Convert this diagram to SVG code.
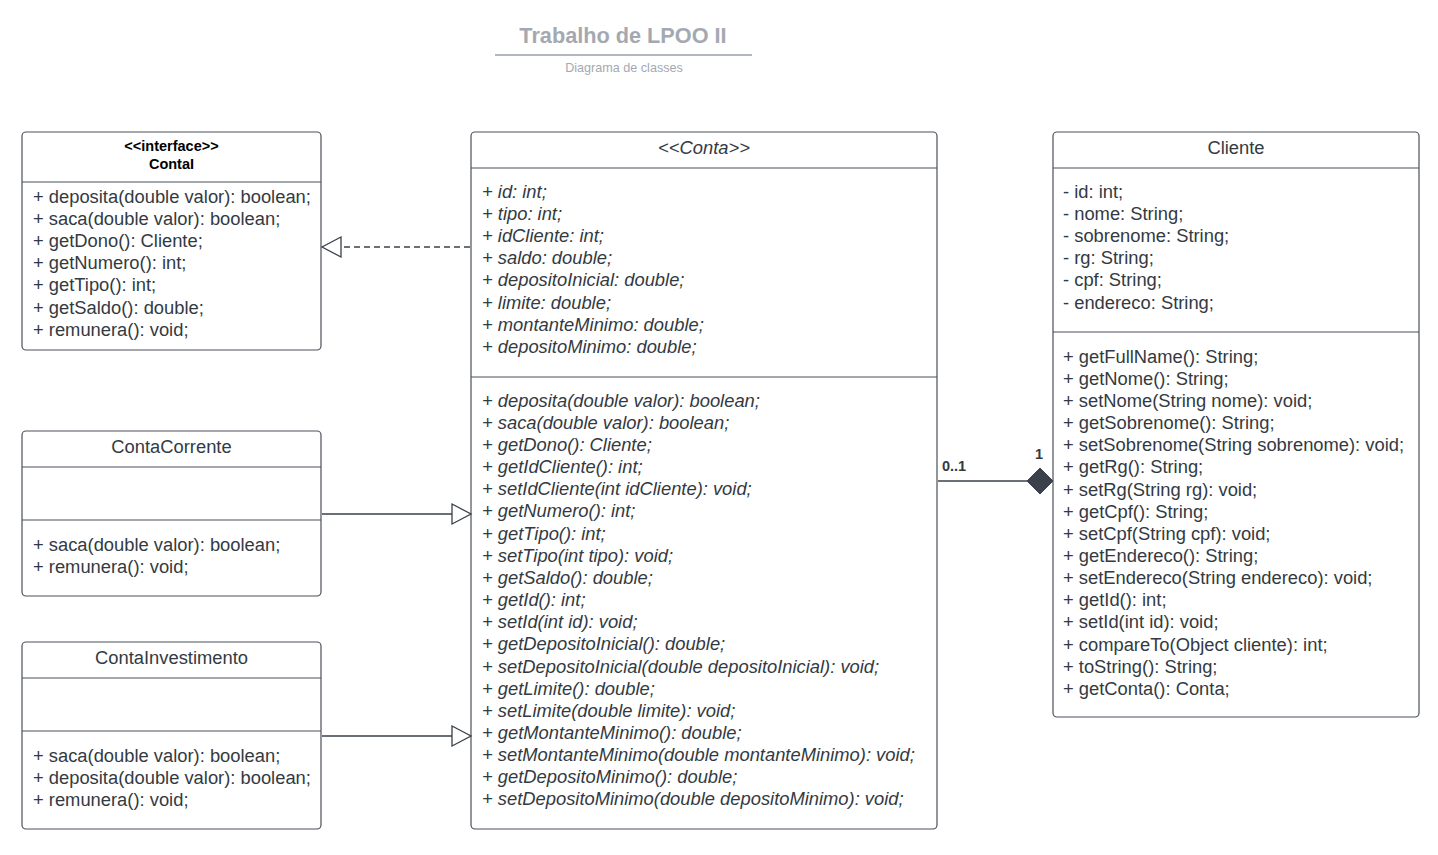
<svg xmlns="http://www.w3.org/2000/svg" width="1438" height="855" viewBox="0 0 1438 855">
<style>
.box{fill:#fff;stroke:#4b5058;stroke-width:1.2}
.div{stroke:#4b5058;stroke-width:1.2}
.t{font-family:"Liberation Sans",Arial,sans-serif;font-size:18.35px;fill:#333a42}
.i{font-style:italic}
.c{text-anchor:middle}
.h{font-family:"Liberation Sans",Arial,sans-serif;font-size:14.5px;font-weight:bold;fill:#000;text-anchor:middle}
.conn{stroke:#3a414a;stroke-width:1.3;fill:none}
.lbl{font-family:"Liberation Sans",Arial,sans-serif;font-size:14.5px;font-weight:bold;fill:#333a42}
</style>
<rect width="1438" height="855" fill="#fff"/>
<g id="title">
<text x="623" y="43" text-anchor="middle" font-family="Liberation Sans,Arial,sans-serif" font-size="21.7" font-weight="bold" fill="#a4a9b1">Trabalho de LPOO II</text>
<line x1="495" y1="55" x2="752" y2="55" stroke="#9aa0aa" stroke-width="1.5"/>
<text x="624" y="72" text-anchor="middle" font-family="Liberation Sans,Arial,sans-serif" font-size="12.6" fill="#a4a9b1">Diagrama de classes</text>
</g>
<g id="ContaI">
<rect class="box" x="22" y="132" width="299" height="218" rx="4"/>
<line class="div" x1="22" y1="182" x2="321" y2="182"/>
<text class="h" x="171.5" y="151">&lt;&lt;interface&gt;&gt;</text>
<text class="h" x="171.5" y="169">ContaI</text>
<text class="t" x="33" y="203">+ deposita(double valor): boolean;</text>
<text class="t" x="33" y="225">+ saca(double valor): boolean;</text>
<text class="t" x="33" y="247">+ getDono(): Cliente;</text>
<text class="t" x="33" y="269">+ getNumero(): int;</text>
<text class="t" x="33" y="291">+ getTipo(): int;</text>
<text class="t" x="33" y="314">+ getSaldo(): double;</text>
<text class="t" x="33" y="336">+ remunera(): void;</text>
</g>
<g id="ContaCorrente">
<rect class="box" x="22" y="431" width="299" height="165" rx="4"/>
<line class="div" x1="22" y1="467" x2="321" y2="467"/>
<line class="div" x1="22" y1="520" x2="321" y2="520"/>
<text class="t c" x="171.5" y="453">ContaCorrente</text>
<text class="t" x="33" y="551">+ saca(double valor): boolean;</text>
<text class="t" x="33" y="573">+ remunera(): void;</text>
</g>
<g id="ContaInvestimento">
<rect class="box" x="22" y="642" width="299" height="187" rx="4"/>
<line class="div" x1="22" y1="678" x2="321" y2="678"/>
<line class="div" x1="22" y1="731" x2="321" y2="731"/>
<text class="t c" x="171.5" y="664">ContaInvestimento</text>
<text class="t" x="33" y="762">+ saca(double valor): boolean;</text>
<text class="t" x="33" y="784">+ deposita(double valor): boolean;</text>
<text class="t" x="33" y="806">+ remunera(): void;</text>
</g>
<g id="Conta">
<rect class="box" x="471" y="132" width="466" height="697" rx="4"/>
<line class="div" x1="471" y1="168" x2="937" y2="168"/>
<line class="div" x1="471" y1="377" x2="937" y2="377"/>
<text class="t i c" x="704" y="154">&lt;&lt;Conta&gt;&gt;</text>
<text class="t i" x="482" y="198">+ id: int;</text>
<text class="t i" x="482" y="220">+ tipo: int;</text>
<text class="t i" x="482" y="242">+ idCliente: int;</text>
<text class="t i" x="482" y="264">+ saldo: double;</text>
<text class="t i" x="482" y="286">+ depositoInicial: double;</text>
<text class="t i" x="482" y="309">+ limite: double;</text>
<text class="t i" x="482" y="331">+ montanteMinimo: double;</text>
<text class="t i" x="482" y="353">+ depositoMinimo: double;</text>
<text class="t i" x="482" y="407">+ deposita(double valor): boolean;</text>
<text class="t i" x="482" y="429">+ saca(double valor): boolean;</text>
<text class="t i" x="482" y="451">+ getDono(): Cliente;</text>
<text class="t i" x="482" y="473">+ getIdCliente(): int;</text>
<text class="t i" x="482" y="495">+ setIdCliente(int idCliente): void;</text>
<text class="t i" x="482" y="517">+ getNumero(): int;</text>
<text class="t i" x="482" y="540">+ getTipo(): int;</text>
<text class="t i" x="482" y="562">+ setTipo(int tipo): void;</text>
<text class="t i" x="482" y="584">+ getSaldo(): double;</text>
<text class="t i" x="482" y="606">+ getId(): int;</text>
<text class="t i" x="482" y="628">+ setId(int id): void;</text>
<text class="t i" x="482" y="650">+ getDepositoInicial(): double;</text>
<text class="t i" x="482" y="673">+ setDepositoInicial(double depositoInicial): void;</text>
<text class="t i" x="482" y="695">+ getLimite(): double;</text>
<text class="t i" x="482" y="717">+ setLimite(double limite): void;</text>
<text class="t i" x="482" y="739">+ getMontanteMinimo(): double;</text>
<text class="t i" x="482" y="761">+ setMontanteMinimo(double montanteMinimo): void;</text>
<text class="t i" x="482" y="783">+ getDepositoMinimo(): double;</text>
<text class="t i" x="482" y="805">+ setDepositoMinimo(double depositoMinimo): void;</text>
</g>
<g id="Cliente">
<rect class="box" x="1053" y="132" width="366" height="585" rx="4"/>
<line class="div" x1="1053" y1="168" x2="1419" y2="168"/>
<line class="div" x1="1053" y1="332" x2="1419" y2="332"/>
<text class="t c" x="1236" y="154">Cliente</text>
<text class="t" x="1063" y="198">- id: int;</text>
<text class="t" x="1063" y="220">- nome: String;</text>
<text class="t" x="1063" y="242">- sobrenome: String;</text>
<text class="t" x="1063" y="264">- rg: String;</text>
<text class="t" x="1063" y="286">- cpf: String;</text>
<text class="t" x="1063" y="309">- endereco: String;</text>
<text class="t" x="1063" y="363">+ getFullName(): String;</text>
<text class="t" x="1063" y="385">+ getNome(): String;</text>
<text class="t" x="1063" y="407">+ setNome(String nome): void;</text>
<text class="t" x="1063" y="429">+ getSobrenome(): String;</text>
<text class="t" x="1063" y="451">+ setSobrenome(String sobrenome): void;</text>
<text class="t" x="1063" y="473">+ getRg(): String;</text>
<text class="t" x="1063" y="496">+ setRg(String rg): void;</text>
<text class="t" x="1063" y="518">+ getCpf(): String;</text>
<text class="t" x="1063" y="540">+ setCpf(String cpf): void;</text>
<text class="t" x="1063" y="562">+ getEndereco(): String;</text>
<text class="t" x="1063" y="584">+ setEndereco(String endereco): void;</text>
<text class="t" x="1063" y="606">+ getId(): int;</text>
<text class="t" x="1063" y="628">+ setId(int id): void;</text>
<text class="t" x="1063" y="651">+ compareTo(Object cliente): int;</text>
<text class="t" x="1063" y="673">+ toString(): String;</text>
<text class="t" x="1063" y="695">+ getConta(): Conta;</text>
</g>
<g id="connectors">
<line class="conn" x1="470" y1="247" x2="341" y2="247" stroke-dasharray="6,4"/>
<path class="conn" d="M341,237 L322,247 L341,257 Z" fill="#fff"/>
<line class="conn" x1="322" y1="514" x2="452" y2="514"/>
<path class="conn" d="M452,504 L471,514 L452,524 Z" fill="#fff"/>
<line class="conn" x1="322" y1="736" x2="452" y2="736"/>
<path class="conn" d="M452,726 L471,736 L452,746 Z" fill="#fff"/>
<line class="conn" x1="938" y1="481" x2="1028" y2="481"/>
<path d="M1027,481 L1040,468 L1053,481 L1040,494 Z" fill="#3a414a" stroke="#3a414a"/>
<text class="lbl" x="942" y="471">0..1</text>
<text class="lbl" x="1035" y="459">1</text>
</g>
</svg>
